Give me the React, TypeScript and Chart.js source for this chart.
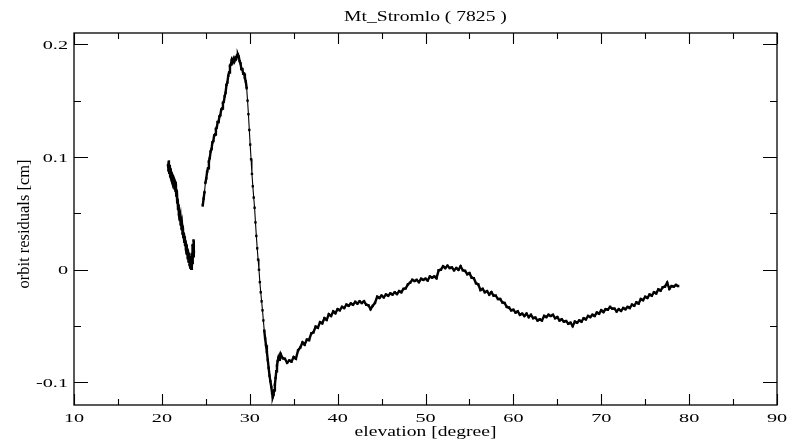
import React, { useEffect, useRef } from "react";
import { Chart, registerables } from "chart.js";

Chart.register(...registerables);

const chartTitle = "Mt_Stromlo ( 7825 )";
const xAxisTitle = "elevation [degree]";
const yAxisTitle = "orbit residuals [cm]";

const xMajorTicks = [10, 20, 30, 40, 50, 60, 70, 80, 90];
const xMinorTicks = [15, 25, 35, 45, 55, 65, 75, 85];
const yMajorTicks = [-0.1, 0, 0.1, 0.2];
const yMinorTicks = [-0.05, 0.05, 0.15];
const yTickLabels = ["-0.1", "0", "0.1", "0.2"];

const seg1Elevation = [
  20.7, 20.75, 20.8, 20.85, 20.9, 20.95, 21.0, 21.05, 21.1, 21.15, 21.2, 21.25, 21.3, 21.35, 21.4, 21.45,
  21.5, 21.55, 21.6, 21.65, 21.7, 21.75, 21.8, 21.85, 21.9, 21.95, 22.0, 22.05, 22.1, 22.15, 22.2, 22.25,
  22.3, 22.35, 22.4, 22.45, 22.5, 22.55, 22.6, 22.65, 22.7, 22.75, 22.8, 22.85, 22.9, 22.95, 23.0, 23.05,
  23.1, 23.15, 23.2, 23.25, 23.3, 23.35, 23.4, 23.45, 23.5, 23.55, 23.6, 23.65,
];
const seg1Residual = [
  0.093, 0.088, 0.096, 0.086, 0.092, 0.083, 0.089, 0.081, 0.086, 0.079, 0.084, 0.077, 0.082, 0.074, 0.08, 0.072,
  0.078, 0.07, 0.075, 0.066, 0.07, 0.06, 0.062, 0.054, 0.057, 0.049, 0.051, 0.044, 0.047, 0.04, 0.043, 0.036,
  0.039, 0.032, 0.036, 0.029, 0.032, 0.025, 0.029, 0.022, 0.025, 0.018, 0.022, 0.014, 0.018, 0.01, 0.015, 0.007,
  0.012, 0.004, 0.01, 0.002, 0.008, 0.001, 0.014, 0.006, 0.022, 0.012, 0.026, 0.016,
];

const seg2Elevation = [
  24.65, 24.75, 24.85, 24.95, 25.05, 25.15, 25.25, 25.35, 25.45, 25.55, 25.65, 25.75, 25.85, 25.95, 26.05, 26.15,
  26.25, 26.35, 26.45, 26.55, 26.65, 26.75, 26.85, 26.95, 27.05, 27.15, 27.25, 27.35, 27.45, 27.55, 27.65, 27.75,
  27.85, 27.95, 28.05, 28.15, 28.25, 28.35, 28.45, 28.55, 28.65, 28.75, 28.85, 28.95, 29.05, 29.15, 29.25, 29.35,
  29.45, 29.55, 29.65, 29.75, 29.85, 29.95, 30.05, 30.15, 30.25, 30.35, 30.45, 30.55, 30.65, 30.75, 30.85, 30.95,
  31.05, 31.15, 31.25, 31.35, 31.45, 31.55, 31.65, 31.75, 31.85, 31.95, 32.05, 32.15, 32.25, 32.35, 32.45, 32.55,
  32.62, 32.7, 32.78, 32.86, 32.94, 33.02, 33.1, 33.18, 33.26, 33.34, 33.42,
  33.5, 33.75, 34.0, 34.25, 34.5, 34.75, 35.0, 35.25, 35.5, 35.75, 36.0, 36.25, 36.5, 36.75, 37.0, 37.25,
  37.5, 37.75, 38.0, 38.25, 38.5, 38.75, 39.0, 39.25, 39.5, 39.75, 40.0, 40.25, 40.5, 40.75, 41.0, 41.25,
  41.5, 41.75, 42.0, 42.25, 42.5, 42.75, 43.0, 43.25, 43.5, 43.75, 44.0, 44.25, 44.5, 44.75, 45.0, 45.25,
  45.5, 45.75, 46.0, 46.25, 46.5, 46.75, 47.0, 47.25, 47.5, 47.75, 48.0, 48.25, 48.5, 48.75, 49.0, 49.25,
  49.5, 49.75, 50.0, 50.25, 50.5, 50.75, 51.0, 51.25, 51.5, 51.75, 52.0, 52.25, 52.5, 52.75, 53.0, 53.25,
  53.5, 53.75, 54.0, 54.25, 54.5, 54.75, 55.0, 55.25, 55.5, 55.75, 56.0, 56.25, 56.5, 56.75, 57.0, 57.25,
  57.5, 57.75, 58.0, 58.25, 58.5, 58.75, 59.0, 59.25, 59.5, 59.75, 60.0, 60.25, 60.5, 60.75, 61.0, 61.25,
  61.5, 61.75, 62.0, 62.25, 62.5, 62.75, 63.0, 63.25, 63.5, 63.75, 64.0, 64.25, 64.5, 64.75, 65.0, 65.25,
  65.5, 65.75, 66.0, 66.25, 66.5, 66.75, 67.0, 67.25, 67.5, 67.75, 68.0, 68.25, 68.5, 68.75, 69.0, 69.25,
  69.5, 69.75, 70.0, 70.25, 70.5, 70.75, 71.0, 71.25, 71.5, 71.75, 72.0, 72.25, 72.5, 72.75, 73.0, 73.25,
  73.5, 73.75, 74.0, 74.25, 74.5, 74.75, 75.0, 75.25, 75.5, 75.75, 76.0, 76.25, 76.5, 76.75, 77.0, 77.25,
  77.5, 77.75, 78.0, 78.25, 78.5, 78.75,
];
const seg2Residual = [
  0.057, 0.063, 0.069, 0.077, 0.081, 0.087, 0.09, 0.096, 0.099, 0.105, 0.107, 0.113, 0.114, 0.119, 0.12, 0.125,
  0.126, 0.131, 0.131, 0.136, 0.137, 0.142, 0.143, 0.148, 0.149, 0.154, 0.157, 0.164, 0.166, 0.172, 0.175, 0.181,
  0.182, 0.186, 0.184, 0.187, 0.185, 0.188, 0.187, 0.19, 0.191, 0.189, 0.185, 0.183, 0.178, 0.178, 0.174, 0.174,
  0.17, 0.167, 0.161, 0.15, 0.138, 0.124, 0.111, 0.098, 0.085, 0.074, 0.064, 0.055, 0.042, 0.03, 0.019, 0.009,
  0.0, -0.011, -0.02, -0.028, -0.036, -0.045, -0.054, -0.061, -0.067, -0.073, -0.08, -0.087, -0.094, -0.099, -0.104, -0.11,
  -0.113, -0.111, -0.107, -0.102, -0.096, -0.09, -0.085, -0.081, -0.078, -0.08, -0.077,
  -0.0745, -0.0785, -0.079, -0.0825, -0.0805, -0.0815, -0.0775, -0.079, -0.0715, -0.069, -0.0645, -0.0665, -0.062, -0.0625, -0.0565, -0.0555,
  -0.0505, -0.0515, -0.0465, -0.0475, -0.043, -0.0445, -0.0395, -0.041, -0.037, -0.0385, -0.035, -0.036, -0.033, -0.034, -0.031, -0.032,
  -0.03, -0.031, -0.0285, -0.03, -0.028, -0.0295, -0.028, -0.031, -0.0315, -0.035, -0.032, -0.0295, -0.024, -0.025, -0.023, -0.0245,
  -0.022, -0.023, -0.021, -0.022, -0.02, -0.0215, -0.019, -0.02, -0.017, -0.0165, -0.013, -0.0115, -0.009, -0.01, -0.009, -0.011,
  -0.008, -0.009, -0.008, -0.0095, -0.006, -0.007, -0.006, -0.0075, -0.0005, 0.0, 0.003, 0.0015, 0.0035, 0.0015, 0.002, -0.0005,
  0.0015, 0.0, 0.003, -0.0005, -0.001, -0.004, -0.003, -0.007, -0.0075, -0.012, -0.013, -0.018, -0.017, -0.02, -0.019, -0.022,
  -0.02, -0.023, -0.023, -0.026, -0.026, -0.029, -0.0295, -0.033, -0.0335, -0.036, -0.0355, -0.038, -0.037, -0.04, -0.039, -0.041,
  -0.039, -0.042, -0.04, -0.043, -0.0425, -0.045, -0.044, -0.045, -0.041, -0.042, -0.04, -0.041, -0.04, -0.043, -0.042, -0.045,
  -0.044, -0.046, -0.0455, -0.048, -0.047, -0.05, -0.046, -0.047, -0.045, -0.046, -0.043, -0.044, -0.041, -0.042, -0.04, -0.041,
  -0.038, -0.039, -0.036, -0.0375, -0.035, -0.0355, -0.033, -0.0345, -0.0345, -0.037, -0.035, -0.0365, -0.034, -0.035, -0.033, -0.034,
  -0.031, -0.032, -0.029, -0.03, -0.026, -0.027, -0.024, -0.025, -0.022, -0.023, -0.02, -0.021, -0.0175, -0.0185, -0.0155, -0.015,
  -0.0115, -0.017, -0.0145, -0.015, -0.0135, -0.0145,
];

const FONT = '"Liberation Serif", "Times New Roman", serif';

const axisDecor = {
  id: "axisDecor",
  afterDraw(chart: any) {
    const { ctx, chartArea: a, scales } = chart;
    const xs = scales.x;
    const ys = scales.y;
    ctx.save();
    ctx.strokeStyle = "#000";
    ctx.lineWidth = 1.3;
    ctx.strokeRect(a.left, a.top, a.right - a.left, a.bottom - a.top);

    ctx.lineWidth = 1.1;
    ctx.beginPath();
    const xTick = (v: number, len: number) => {
      const p = Math.round(xs.getPixelForValue(v)) + 0.5;
      ctx.moveTo(p, a.bottom);
      ctx.lineTo(p, a.bottom - len);
      ctx.moveTo(p, a.top);
      ctx.lineTo(p, a.top + len);
    };
    const yTick = (v: number, len: number) => {
      const p = Math.round(ys.getPixelForValue(v)) + 0.5;
      ctx.moveTo(a.left, p);
      ctx.lineTo(a.left + len, p);
      ctx.moveTo(a.right, p);
      ctx.lineTo(a.right - len, p);
    };
    xMajorTicks.forEach((v) => xTick(v, 11));
    xMinorTicks.forEach((v) => xTick(v, 6));
    yMajorTicks.forEach((v) => yTick(v, 14));
    yMinorTicks.forEach((v) => yTick(v, 7));
    ctx.stroke();

    ctx.fillStyle = "#000";
    const stretched = (
      text: string,
      x: number,
      y: number,
      size: number,
      sx: number,
      align: CanvasTextAlign,
      baseline: CanvasTextBaseline,
      rot = 0
    ) => {
      ctx.save();
      ctx.translate(x, y);
      if (rot) ctx.rotate(rot);
      ctx.scale(sx, 1);
      ctx.font = `${size}px ${FONT}`;
      ctx.textAlign = align;
      ctx.textBaseline = baseline;
      ctx.fillText(text, 0, 0);
      ctx.restore();
    };

    xMajorTicks.forEach((v) => {
      stretched(String(v), xs.getPixelForValue(v), a.bottom + 17, 13.5, 1.5, "center", "alphabetic");
    });
    yMajorTicks.forEach((v, i) => {
      stretched(yTickLabels[i], a.left - 6, ys.getPixelForValue(v) + 1, 13.5, 1.5, "right", "middle");
    });
    const cx = (a.left + a.right) / 2;
    stretched(chartTitle, cx, 21, 14, 1.4, "center", "alphabetic");
    stretched(xAxisTitle, cx, 436, 14.5, 1.35, "center", "alphabetic");
    stretched(yAxisTitle, 29, (a.top + a.bottom) / 2 + 5, 16.5, 1, "center", "alphabetic", -Math.PI / 2);
    ctx.restore();
  },
};

export default function App() {
  const canvasRef = useRef<HTMLCanvasElement | null>(null);

  useEffect(() => {
    if (!canvasRef.current) return;
    const style = {
      borderColor: "#000",
      backgroundColor: "#000",
      borderWidth: 2.4,
      pointStyle: "rect" as const,
      pointRadius: 1.7,
      pointHoverRadius: 1.7,
      pointBorderWidth: 0,
      tension: 0,
      fill: false,
      segment: {
        borderWidth: (c: any) => {
          const dx = Math.abs(c.p1.x - c.p0.x);
          const dy = Math.abs(c.p1.y - c.p0.y);
          return dy > 10 * dx ? 1.1 : 2.4;
        },
      },
    };
    const chart = new Chart(canvasRef.current, {
      type: "line",
      data: {
        datasets: [
          {
            label: "segment 1",
            data: seg1Elevation.map((x, i) => ({ x, y: seg1Residual[i] })),
            ...style,
            segment: undefined,
            borderWidth: 2.6,
          },
          {
            label: "segment 2",
            data: seg2Elevation.map((x, i) => ({ x, y: seg2Residual[i] })),
            ...style,
          },
        ],
      },
      options: {
        animation: false,
        responsive: false,
        devicePixelRatio: 1,
        layout: { padding: { left: 74, right: 17, top: 33, bottom: 37 } },
        plugins: {
          legend: { display: false },
          tooltip: { enabled: false },
          title: { display: false },
        },
        scales: {
          x: { type: "linear", min: 10, max: 90, display: false },
          y: { type: "linear", min: -0.12, max: 0.21, display: false },
        },
      },
      plugins: [axisDecor],
    });
    return () => chart.destroy();
  }, []);

  return (
    <div style={{ position: "fixed", left: 0, top: 0, width: 794, height: 442, background: "#fff" }}>
      <canvas ref={canvasRef} width={794} height={442} style={{ display: "block" }} />
    </div>
  );
}
